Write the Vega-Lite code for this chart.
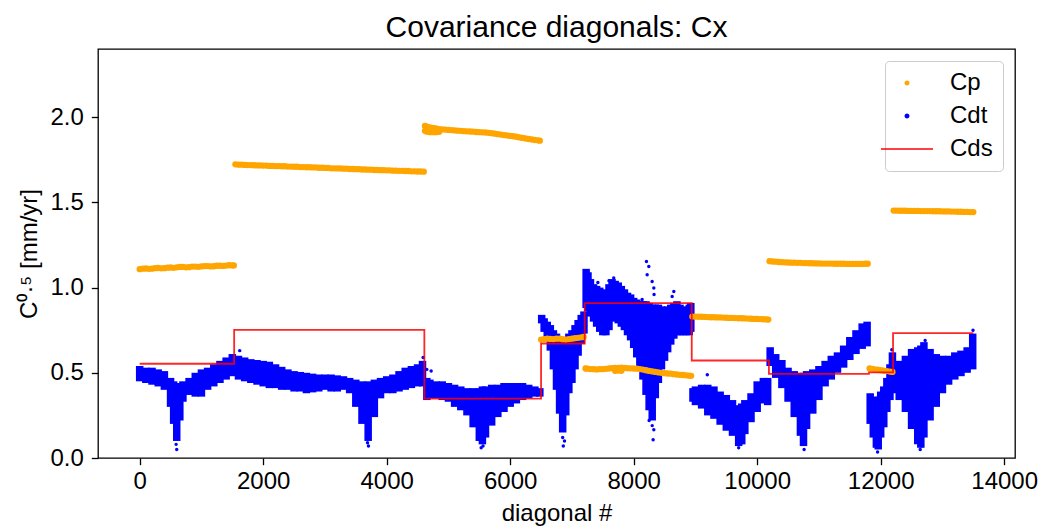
{
  "$schema": "https://vega.github.io/schema/vega-lite/v6.json",
  "autosize": {"type": "none"},
  "padding": {"left": 98, "top": 49, "right": 28, "bottom": 69},
  "width": 917,
  "height": 409,
  "background": "white",
  "title": {"text": "Covariance diagonals: Cx"},
  "config": {
    "font": "Liberation Sans",
    "view": {"stroke": "black", "strokeWidth": 1.3},
    "title": {"fontSize": 30, "fontWeight": "normal", "color": "black", "offset": 6, "anchor": "middle"},
    "axis": {"labelFontSize": 24, "titleFontSize": 24, "titleFontWeight": "normal", "labelColor": "black", "titleColor": "black", "tickColor": "black", "tickSize": 6.7, "tickWidth": 1.3, "domain": false, "grid": false, "labelPadding": 5},
    "legend": {"orient": "top-right", "offset": 12, "padding": 10, "strokeColor": "#cccccc", "fillColor": "rgba(255,255,255,0.8)", "cornerRadius": 4, "labelFontSize": 24, "labelColor": "black", "labelOffset": 31, "rowPadding": 9, "symbolSize": 12, "symbolStrokeWidth": 1.5}
  },
  "datasets": {
    "cp": [
      {"x":0,"y":1.108},{"x":50,"y":1.111},{"x":100,"y":1.112},{"x":150,"y":1.11},{"x":200,"y":1.111},{"x":250,"y":1.114},{"x":300,"y":1.115},{"x":350,"y":1.113},{"x":400,"y":1.114},{"x":450,"y":1.117},{"x":500,"y":1.118},{"x":550,"y":1.116},{"x":600,"y":1.119},{"x":650,"y":1.121},{"x":700,"y":1.121},{"x":750,"y":1.119},{"x":800,"y":1.12},{"x":850,"y":1.123},{"x":900,"y":1.123},{"x":950,"y":1.122},{"x":1000,"y":1.124},{"x":1050,"y":1.126},{"x":1100,"y":1.126},{"x":1150,"y":1.124},{"x":1200,"y":1.125},{"x":1250,"y":1.128},{"x":1300,"y":1.128},{"x":1350,"y":1.127},{"x":1400,"y":1.129},{"x":1450,"y":1.131},{"x":1500,"y":1.13},{"x":1525,"y":1.13},
      {"x":1550,"y":1.723},{"x":1600,"y":1.721},{"x":1650,"y":1.721},{"x":1700,"y":1.72},{"x":1750,"y":1.719},{"x":1800,"y":1.719},{"x":1850,"y":1.718},{"x":1900,"y":1.717},{"x":1950,"y":1.717},{"x":2000,"y":1.716},{"x":2050,"y":1.716},{"x":2100,"y":1.714},{"x":2150,"y":1.714},{"x":2200,"y":1.713},{"x":2250,"y":1.713},{"x":2300,"y":1.712},{"x":2350,"y":1.712},{"x":2400,"y":1.71},{"x":2450,"y":1.71},{"x":2500,"y":1.709},{"x":2550,"y":1.709},{"x":2600,"y":1.707},{"x":2650,"y":1.707},{"x":2700,"y":1.706},{"x":2750,"y":1.706},{"x":2800,"y":1.705},{"x":2850,"y":1.705},{"x":2900,"y":1.703},{"x":2950,"y":1.703},{"x":3000,"y":1.702},{"x":3050,"y":1.702},{"x":3100,"y":1.7},{"x":3150,"y":1.7},{"x":3200,"y":1.699},{"x":3250,"y":1.699},{"x":3300,"y":1.698},{"x":3350,"y":1.698},{"x":3400,"y":1.696},{"x":3450,"y":1.696},{"x":3500,"y":1.695},{"x":3550,"y":1.695},{"x":3600,"y":1.693},{"x":3650,"y":1.693},{"x":3700,"y":1.692},{"x":3750,"y":1.692},{"x":3800,"y":1.69},{"x":3850,"y":1.69},{"x":3900,"y":1.689},{"x":3950,"y":1.689},{"x":4000,"y":1.688},{"x":4050,"y":1.688},{"x":4100,"y":1.686},{"x":4150,"y":1.686},{"x":4200,"y":1.685},{"x":4250,"y":1.685},{"x":4300,"y":1.684},{"x":4350,"y":1.684},{"x":4400,"y":1.682},{"x":4450,"y":1.682},{"x":4500,"y":1.681},{"x":4550,"y":1.681},{"x":4600,"y":1.68},
      {"x":4620,"y":1.948},{"x":4620,"y":1.92},{"x":4650,"y":1.945},{"x":4650,"y":1.915},{"x":4700,"y":1.94},{"x":4700,"y":1.912},{"x":4750,"y":1.937},{"x":4750,"y":1.912},{"x":4800,"y":1.934},{"x":4800,"y":1.912},{"x":4850,"y":1.93},{"x":4850,"y":1.914},{"x":4900,"y":1.928},{"x":4950,"y":1.927},{"x":5000,"y":1.925},{"x":5050,"y":1.924},{"x":5100,"y":1.922},{"x":5150,"y":1.921},{"x":5200,"y":1.92},{"x":5250,"y":1.918},{"x":5300,"y":1.917},{"x":5350,"y":1.916},{"x":5400,"y":1.915},{"x":5450,"y":1.913},{"x":5500,"y":1.912},{"x":5550,"y":1.911},{"x":5600,"y":1.91},{"x":5650,"y":1.908},{"x":5700,"y":1.906},{"x":5750,"y":1.903},{"x":5800,"y":1.9},{"x":5850,"y":1.898},{"x":5900,"y":1.895},{"x":5950,"y":1.893},{"x":6000,"y":1.89},{"x":6050,"y":1.888},{"x":6100,"y":1.885},{"x":6150,"y":1.881},{"x":6200,"y":1.878},{"x":6250,"y":1.875},{"x":6300,"y":1.872},{"x":6350,"y":1.869},{"x":6400,"y":1.866},{"x":6450,"y":1.864},{"x":6480,"y":1.862},
      {"x":6500,"y":0.695},{"x":6550,"y":0.698},{"x":6600,"y":0.7},{"x":6650,"y":0.699},{"x":6700,"y":0.698},{"x":6750,"y":0.7},{"x":6800,"y":0.7},{"x":6850,"y":0.697},{"x":6900,"y":0.695},{"x":6950,"y":0.698},{"x":7000,"y":0.7},{"x":7050,"y":0.703},{"x":7100,"y":0.705},{"x":7150,"y":0.708},{"x":7190,"y":0.71},
      {"x":7220,"y":0.525},{"x":7250,"y":0.524},{"x":7300,"y":0.522},{"x":7350,"y":0.521},{"x":7400,"y":0.52},{"x":7450,"y":0.521},{"x":7500,"y":0.522},{"x":7550,"y":0.523},{"x":7600,"y":0.525},{"x":7650,"y":0.527},{"x":7700,"y":0.528},{"x":7700,"y":0.512},{"x":7750,"y":0.529},{"x":7750,"y":0.513},{"x":7800,"y":0.53},{"x":7800,"y":0.512},{"x":7850,"y":0.528},{"x":7900,"y":0.527},{"x":7950,"y":0.526},{"x":8000,"y":0.525},{"x":8050,"y":0.524},{"x":8100,"y":0.522},{"x":8150,"y":0.519},{"x":8200,"y":0.515},{"x":8250,"y":0.511},{"x":8300,"y":0.508},{"x":8350,"y":0.505},{"x":8400,"y":0.502},{"x":8450,"y":0.5},{"x":8500,"y":0.498},{"x":8550,"y":0.496},{"x":8600,"y":0.495},{"x":8650,"y":0.492},{"x":8700,"y":0.49},{"x":8750,"y":0.488},{"x":8800,"y":0.487},{"x":8850,"y":0.485},{"x":8900,"y":0.483},{"x":8930,"y":0.482},
      {"x":8950,"y":0.83},{"x":9000,"y":0.83},{"x":9050,"y":0.829},{"x":9100,"y":0.829},{"x":9150,"y":0.828},{"x":9200,"y":0.827},{"x":9250,"y":0.826},{"x":9300,"y":0.826},{"x":9350,"y":0.825},{"x":9400,"y":0.825},{"x":9450,"y":0.824},{"x":9500,"y":0.823},{"x":9550,"y":0.822},{"x":9600,"y":0.822},{"x":9650,"y":0.821},{"x":9700,"y":0.82},{"x":9750,"y":0.82},{"x":9800,"y":0.819},{"x":9850,"y":0.818},{"x":9900,"y":0.817},{"x":9950,"y":0.816},{"x":10000,"y":0.816},{"x":10050,"y":0.815},{"x":10100,"y":0.814},{"x":10150,"y":0.813},{"x":10180,"y":0.812},
      {"x":10200,"y":1.155},{"x":10250,"y":1.153},{"x":10300,"y":1.152},{"x":10350,"y":1.15},{"x":10400,"y":1.149},{"x":10450,"y":1.148},{"x":10500,"y":1.147},{"x":10550,"y":1.146},{"x":10600,"y":1.146},{"x":10650,"y":1.145},{"x":10700,"y":1.145},{"x":10750,"y":1.144},{"x":10800,"y":1.144},{"x":10850,"y":1.143},{"x":10900,"y":1.143},{"x":10950,"y":1.142},{"x":11000,"y":1.142},{"x":11050,"y":1.141},{"x":11100,"y":1.141},{"x":11150,"y":1.141},{"x":11200,"y":1.141},{"x":11250,"y":1.14},{"x":11300,"y":1.14},{"x":11350,"y":1.14},{"x":11400,"y":1.14},{"x":11450,"y":1.139},{"x":11500,"y":1.139},{"x":11550,"y":1.139},{"x":11600,"y":1.139},{"x":11650,"y":1.139},{"x":11700,"y":1.139},{"x":11750,"y":1.14},{"x":11790,"y":1.14},
      {"x":11820,"y":0.525},{"x":11860,"y":0.523},{"x":11900,"y":0.52},{"x":11950,"y":0.518},{"x":12000,"y":0.515},{"x":12050,"y":0.512},{"x":12100,"y":0.51},{"x":12150,"y":0.507},{"x":12190,"y":0.505},
      {"x":12210,"y":1.452},{"x":12250,"y":1.452},{"x":12300,"y":1.451},{"x":12350,"y":1.451},{"x":12400,"y":1.451},{"x":12450,"y":1.45},{"x":12500,"y":1.45},{"x":12550,"y":1.45},{"x":12600,"y":1.45},{"x":12650,"y":1.449},{"x":12700,"y":1.449},{"x":12750,"y":1.449},{"x":12800,"y":1.449},{"x":12850,"y":1.448},{"x":12900,"y":1.448},{"x":12950,"y":1.448},{"x":13000,"y":1.447},{"x":13050,"y":1.447},{"x":13100,"y":1.447},{"x":13150,"y":1.446},{"x":13200,"y":1.446},{"x":13250,"y":1.445},{"x":13300,"y":1.445},{"x":13350,"y":1.444},{"x":13400,"y":1.444},{"x":13450,"y":1.443},{"x":13500,"y":1.443}
    ],
    "cdt_env": [
      {"x":0,"lo":0.45,"hi":0.54},{"x":100,"lo":0.44,"hi":0.53},{"x":200,"lo":0.43,"hi":0.53},{"x":300,"lo":0.42,"hi":0.52},{"x":400,"lo":0.4,"hi":0.51},{"x":500,"lo":0.3,"hi":0.47},{"x":550,"lo":0.2,"hi":0.45},{"x":600,"lo":0.1,"hi":0.44},{"x":650,"lo":0.22,"hi":0.44},{"x":700,"lo":0.33,"hi":0.45},{"x":800,"lo":0.37,"hi":0.47},{"x":900,"lo":0.36,"hi":0.5},{"x":1000,"lo":0.36,"hi":0.52},{"x":1100,"lo":0.4,"hi":0.53},{"x":1200,"lo":0.42,"hi":0.55},{"x":1300,"lo":0.44,"hi":0.57},{"x":1400,"lo":0.46,"hi":0.59},{"x":1500,"lo":0.48,"hi":0.61},
      {"x":1600,"lo":0.46,"hi":0.6},{"x":1700,"lo":0.45,"hi":0.59},{"x":1800,"lo":0.44,"hi":0.58},{"x":1900,"lo":0.43,"hi":0.575},{"x":2000,"lo":0.42,"hi":0.57},{"x":2100,"lo":0.41,"hi":0.565},{"x":2200,"lo":0.41,"hi":0.55},{"x":2300,"lo":0.4,"hi":0.535},{"x":2400,"lo":0.4,"hi":0.52},{"x":2500,"lo":0.39,"hi":0.51},{"x":2600,"lo":0.39,"hi":0.505},{"x":2700,"lo":0.38,"hi":0.5},{"x":2800,"lo":0.385,"hi":0.495},{"x":2900,"lo":0.39,"hi":0.49},{"x":3000,"lo":0.4,"hi":0.49},{"x":3100,"lo":0.39,"hi":0.49},{"x":3200,"lo":0.39,"hi":0.485},{"x":3300,"lo":0.4,"hi":0.48},{"x":3400,"lo":0.38,"hi":0.47},{"x":3500,"lo":0.3,"hi":0.46},{"x":3600,"lo":0.2,"hi":0.45},{"x":3700,"lo":0.1,"hi":0.45},{"x":3800,"lo":0.24,"hi":0.46},{"x":3900,"lo":0.35,"hi":0.47},{"x":4000,"lo":0.38,"hi":0.48},{"x":4100,"lo":0.38,"hi":0.49},{"x":4200,"lo":0.39,"hi":0.51},{"x":4300,"lo":0.4,"hi":0.53},{"x":4400,"lo":0.41,"hi":0.54},{"x":4500,"lo":0.42,"hi":0.55},{"x":4580,"lo":0.42,"hi":0.57},
      {"x":4650,"lo":0.34,"hi":0.47},{"x":4700,"lo":0.35,"hi":0.46},{"x":4800,"lo":0.35,"hi":0.45},{"x":4900,"lo":0.34,"hi":0.45},{"x":5000,"lo":0.33,"hi":0.44},{"x":5100,"lo":0.3,"hi":0.43},{"x":5200,"lo":0.28,"hi":0.42},{"x":5300,"lo":0.25,"hi":0.41},{"x":5400,"lo":0.18,"hi":0.41},{"x":5500,"lo":0.1,"hi":0.41},{"x":5550,"lo":0.08,"hi":0.42},{"x":5600,"lo":0.12,"hi":0.42},{"x":5700,"lo":0.19,"hi":0.43},{"x":5800,"lo":0.24,"hi":0.43},{"x":5900,"lo":0.27,"hi":0.44},{"x":6000,"lo":0.3,"hi":0.44},{"x":6100,"lo":0.32,"hi":0.44},{"x":6200,"lo":0.34,"hi":0.44},{"x":6300,"lo":0.35,"hi":0.43},{"x":6400,"lo":0.36,"hi":0.42},{"x":6480,"lo":0.36,"hi":0.41},
      {"x":6510,"lo":0.79,"hi":0.84},{"x":6550,"lo":0.74,"hi":0.82},{"x":6600,"lo":0.7,"hi":0.8},{"x":6650,"lo":0.63,"hi":0.78},{"x":6700,"lo":0.52,"hi":0.75},{"x":6750,"lo":0.4,"hi":0.73},{"x":6800,"lo":0.26,"hi":0.7},{"x":6850,"lo":0.15,"hi":0.66},{"x":6900,"lo":0.25,"hi":0.7},{"x":6950,"lo":0.38,"hi":0.73},{"x":7000,"lo":0.44,"hi":0.75},{"x":7050,"lo":0.52,"hi":0.78},{"x":7100,"lo":0.6,"hi":0.81},{"x":7150,"lo":0.67,"hi":0.84},{"x":7195,"lo":0.73,"hi":0.86},
      {"x":7230,"lo":0.88,"hi":1.11},{"x":7260,"lo":0.86,"hi":1.09},{"x":7300,"lo":0.83,"hi":1.05},{"x":7350,"lo":0.8,"hi":1.02},{"x":7400,"lo":0.77,"hi":1.01},{"x":7450,"lo":0.74,"hi":1.0},{"x":7500,"lo":0.72,"hi":0.99},{"x":7550,"lo":0.72,"hi":0.98},{"x":7600,"lo":0.75,"hi":1.02},{"x":7650,"lo":0.8,"hi":1.05},{"x":7700,"lo":0.82,"hi":1.04},{"x":7750,"lo":0.79,"hi":1.03},{"x":7800,"lo":0.77,"hi":1.01},{"x":7850,"lo":0.75,"hi":0.99},{"x":7900,"lo":0.72,"hi":0.97},{"x":7950,"lo":0.69,"hi":0.96},{"x":8000,"lo":0.645,"hi":0.94},{"x":8050,"lo":0.59,"hi":0.93},{"x":8100,"lo":0.53,"hi":0.92},{"x":8150,"lo":0.46,"hi":0.92},{"x":8200,"lo":0.37,"hi":0.92},{"x":8250,"lo":0.28,"hi":0.91},{"x":8300,"lo":0.22,"hi":0.9},{"x":8350,"lo":0.35,"hi":0.9},{"x":8400,"lo":0.44,"hi":0.9},{"x":8450,"lo":0.52,"hi":0.89},{"x":8500,"lo":0.57,"hi":0.88},{"x":8550,"lo":0.62,"hi":0.89},{"x":8600,"lo":0.665,"hi":0.9},{"x":8650,"lo":0.7,"hi":0.91},{"x":8700,"lo":0.72,"hi":0.92},{"x":8750,"lo":0.72,"hi":0.9},{"x":8800,"lo":0.72,"hi":0.88},{"x":8850,"lo":0.72,"hi":0.89},{"x":8900,"lo":0.72,"hi":0.9},{"x":8925,"lo":0.74,"hi":0.91},
      {"x":8960,"lo":0.33,"hi":0.41},{"x":9000,"lo":0.31,"hi":0.42},{"x":9100,"lo":0.29,"hi":0.43},{"x":9200,"lo":0.25,"hi":0.43},{"x":9300,"lo":0.23,"hi":0.42},{"x":9400,"lo":0.195,"hi":0.39},{"x":9500,"lo":0.16,"hi":0.37},{"x":9600,"lo":0.13,"hi":0.34},{"x":9700,"lo":0.07,"hi":0.31},{"x":9750,"lo":0.08,"hi":0.32},{"x":9800,"lo":0.14,"hi":0.34},{"x":9900,"lo":0.21,"hi":0.38},{"x":10000,"lo":0.27,"hi":0.45},{"x":10100,"lo":0.32,"hi":0.47},{"x":10170,"lo":0.31,"hi":0.47},
      {"x":10210,"lo":0.54,"hi":0.65},{"x":10300,"lo":0.47,"hi":0.61},{"x":10400,"lo":0.41,"hi":0.575},{"x":10500,"lo":0.33,"hi":0.53},{"x":10600,"lo":0.24,"hi":0.51},{"x":10700,"lo":0.13,"hi":0.5},{"x":10750,"lo":0.07,"hi":0.5},{"x":10800,"lo":0.17,"hi":0.51},{"x":10900,"lo":0.26,"hi":0.52},{"x":11000,"lo":0.34,"hi":0.54},{"x":11100,"lo":0.42,"hi":0.57},{"x":11200,"lo":0.46,"hi":0.6},{"x":11300,"lo":0.5,"hi":0.62},{"x":11400,"lo":0.53,"hi":0.66},{"x":11500,"lo":0.575,"hi":0.71},{"x":11600,"lo":0.61,"hi":0.75},{"x":11700,"lo":0.64,"hi":0.79},{"x":11780,"lo":0.655,"hi":0.8},
      {"x":11830,"lo":0.2,"hi":0.38},{"x":11880,"lo":0.12,"hi":0.36},{"x":11930,"lo":0.06,"hi":0.35},{"x":11960,"lo":0.05,"hi":0.36},{"x":12000,"lo":0.12,"hi":0.39},{"x":12050,"lo":0.18,"hi":0.42},{"x":12100,"lo":0.27,"hi":0.47},{"x":12150,"lo":0.34,"hi":0.55},{"x":12190,"lo":0.38,"hi":0.62},
      {"x":12220,"lo":0.4,"hi":0.54},{"x":12300,"lo":0.34,"hi":0.57},{"x":12400,"lo":0.27,"hi":0.6},{"x":12500,"lo":0.17,"hi":0.64},{"x":12600,"lo":0.08,"hi":0.65},{"x":12650,"lo":0.06,"hi":0.66},{"x":12700,"lo":0.12,"hi":0.68},{"x":12800,"lo":0.22,"hi":0.64},{"x":12900,"lo":0.3,"hi":0.61},{"x":13000,"lo":0.38,"hi":0.6},{"x":13100,"lo":0.43,"hi":0.6},{"x":13200,"lo":0.46,"hi":0.62},{"x":13300,"lo":0.48,"hi":0.63},{"x":13400,"lo":0.5,"hi":0.65},{"x":13490,"lo":0.52,"hi":0.73}
    ],
    "cdt_pts": [
      {"x":590,"y":0.08},{"x":600,"y":0.05},{"x":610,"y":0.12},{"x":620,"y":0.16},{"x":575,"y":0.18},
      {"x":1620,"y":0.63},
      {"x":3690,"y":0.09},{"x":3705,"y":0.07},{"x":3720,"y":0.13},
      {"x":4590,"y":0.59},{"x":4650,"y":0.52},{"x":4720,"y":0.51},
      {"x":5530,"y":0.06},{"x":5560,"y":0.07},{"x":5580,"y":0.1},
      {"x":6860,"y":0.07},{"x":6850,"y":0.12},{"x":6880,"y":0.1},
      {"x":8207,"y":1.153},{"x":8245,"y":1.124},{"x":8218,"y":1.075},{"x":8299,"y":1.036},{"x":8326,"y":0.997},{"x":7677,"y":1.056},{"x":8650,"y":0.977},{"x":8623,"y":0.948},{"x":8137,"y":0.93},{"x":8330,"y":0.96},{"x":7600,"y":1.04},{"x":7420,"y":1.03},
      {"x":8315,"y":0.107},{"x":8326,"y":0.166},{"x":8300,"y":0.19},{"x":8280,"y":0.25},{"x":8250,"y":0.22},
      {"x":9192,"y":0.489},{"x":9700,"y":0.06},{"x":9730,"y":0.08},
      {"x":10760,"y":0.05},{"x":10740,"y":0.09},{"x":10780,"y":0.11},
      {"x":11950,"y":0.035},{"x":11940,"y":0.07},{"x":12180,"y":0.635},
      {"x":12640,"y":0.05},{"x":12660,"y":0.07},{"x":12720,"y":0.69},{"x":13495,"y":0.75}
    ],
    "cds": [
      {"x":0,"y":0.553},{"x":1530,"y":0.752},{"x":4610,"y":0.348},{"x":6500,"y":0.672},{"x":7207,"y":0.909},{"x":8940,"y":0.572},{"x":10190,"y":0.494},{"x":11810,"y":0.502},{"x":12200,"y":0.733},{"x":13500,"y":0.733}
    ]
  },
  "layer": [
    {
      "data": {"name": "cdt_env"},
      "mark": {"type": "rule", "strokeWidth": 7.5, "strokeCap": "butt", "opacity": 1},
      "encoding": {
        "x": {"field": "x", "type": "quantitative", "scale": {"domain": [-675, 14175], "nice": false, "zero": false}, "axis": {"values": [0,2000,4000,6000,8000,10000,12000,14000], "format": "d", "title": "diagonal #", "titlePadding": 8}},
        "y": {"field": "lo", "type": "quantitative", "scale": {"domain": [0, 2.4], "nice": false, "zero": false}, "axis": {"values": [0,0.5,1,1.5,2], "format": ".1f", "title": "C⁰·⁵ [mm/yr]", "titlePadding": 8, "labelPadding": 8}},
        "y2": {"field": "hi"},
        "color": {"datum": "Cdt", "type": "nominal", "scale": {"domain": ["Cp","Cdt","Cds"], "range": ["#ffa500","#0000ff","#ff0000"]}, "legend": {"title": null}}
      }
    },
    {
      "data": {"name": "cdt_pts"},
      "mark": {"type": "point", "filled": true, "size": 12, "opacity": 1},
      "encoding": {
        "x": {"field": "x", "type": "quantitative"},
        "y": {"field": "y", "type": "quantitative"},
        "color": {"datum": "Cdt", "type": "nominal"},
        "shape": {"datum": "Cdt", "type": "nominal", "scale": {"domain": ["Cp","Cdt","Cds"], "range": ["circle","circle","M-15,0L15,0"]}, "legend": {"title": null}}
      }
    },
    {
      "data": {"name": "cp"},
      "mark": {"type": "point", "filled": true, "size": 40, "opacity": 1},
      "encoding": {
        "x": {"field": "x", "type": "quantitative"},
        "y": {"field": "y", "type": "quantitative"},
        "color": {"datum": "Cp", "type": "nominal"},
        "shape": {"datum": "Cp", "type": "nominal"}
      }
    },
    {
      "data": {"name": "cds"},
      "mark": {"type": "line", "interpolate": "step-after", "strokeWidth": 1.8, "opacity": 0.85},
      "encoding": {
        "x": {"field": "x", "type": "quantitative"},
        "y": {"field": "y", "type": "quantitative"},
        "color": {"datum": "Cds", "type": "nominal"}
      }
    }
  ]
}
